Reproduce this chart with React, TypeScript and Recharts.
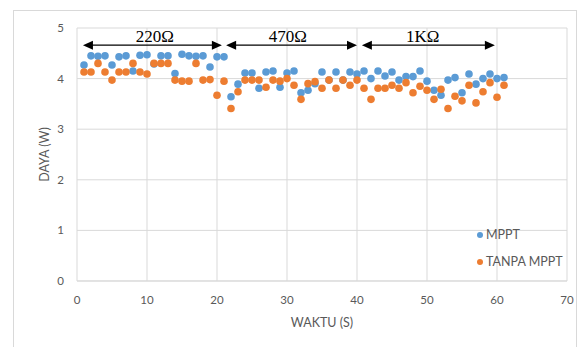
import React from "react";
import {
  ScatterChart,
  Scatter,
  XAxis,
  YAxis,
  CartesianGrid,
  Legend,
  ReferenceLine,
} from "recharts";

// sample times (s)
const times = [
  1, 2, 3, 4, 5, 6, 7, 8, 9, 10, 11, 12, 13, 14, 15, 16, 17, 18, 19, 20,
  21, 22, 23, 24, 25, 26, 27, 28, 29, 30, 31, 32, 33, 34, 35, 36, 37, 38, 39, 40,
  41, 42, 43, 44, 45, 46, 47, 48, 49, 50, 51, 52, 53, 54, 55, 56, 57, 58, 59, 60,
  61,
];

// power with MPPT (W)
const mppt = [
  4.27, 4.45, 4.44, 4.45, 4.27, 4.43, 4.45, 4.15, 4.46, 4.47, 4.29, 4.45, 4.45, 4.1, 4.48, 4.45, 4.44, 4.45, 4.23, 4.43,
  4.43, 3.64, 3.89, 4.11, 4.11, 3.81, 4.13, 4.15, 3.83, 4.11, 4.15, 3.72, 3.77, 3.9, 4.13, 3.97, 4.13, 3.97, 4.13, 4.09,
  4.15, 4.0, 4.15, 4.05, 4.13, 3.97, 4.04, 4.04, 4.15, 3.95, 3.77, 3.67, 3.97, 4.02, 3.72, 4.09, 3.89, 4.0, 4.09, 4.0,
  4.02,
];

// power without MPPT (W)
const tanpaMppt = [
  4.13, 4.13, 4.3, 4.13, 3.97, 4.13, 4.13, 4.3, 4.13, 4.09, 4.3, 4.3, 4.3, 3.97, 3.95, 3.95, 4.3, 3.97, 3.98, 3.67,
  3.95, 3.41, 3.74, 3.97, 3.97, 3.97, 3.83, 3.97, 3.95, 4.0, 3.87, 3.59, 3.9, 3.94, 3.81, 3.97, 3.81, 3.97, 3.87, 3.97,
  3.81, 3.59, 3.81, 3.81, 3.87, 3.81, 3.92, 3.72, 3.85, 3.77, 3.59, 3.79, 3.41, 3.65, 3.56, 3.87, 3.52, 3.74, 3.92, 3.63,
  3.87,
];

const xTicks = [0, 10, 20, 30, 40, 50, 60, 70];
const yTicks = [0, 1, 2, 3, 4, 5];

// load resistance spans shown as arrows above the points
const loads = [
  { label: "220Ω", from: 0.85, to: 20.7, textAt: 11.1 },
  { label: "470Ω", from: 21.3, to: 40.0, textAt: 30.1 },
  { label: "1KΩ", from: 40.7, to: 59.7, textAt: 49.4 },
];
const arrowY = 4.66;

const mpptData = times.map((t, i) => ({ t, w: mppt[i] }));
const tanpaData = times.map((t, i) => ({ t, w: tanpaMppt[i] }));

const BLUE = "#5B9BD5";
const ORANGE = "#ED7D31";
const GRID = "#D9D9D9";
const TEXT = "#595959";
const FONT = "Lato, 'Open Sans', sans-serif";

const dot = (color: string) => (p: any) =>
  <circle cx={p.cx} cy={p.cy} r={3.8} fill={color} />;

const makeArrow = (label: string, textAt: number, from: number, to: number) => (p: any) => {
  const { x1, y1, x2 } = p;
  const tx = x1 + ((textAt - from) / (to - from)) * (x2 - x1);
  const y = y1;
  return (
    <g>
      <line x1={x1 + 9} y1={y} x2={x2 - 9} y2={y} stroke="#000" strokeWidth={1.3} />
      <polygon points={`${x1},${y} ${x1 + 10},${y - 4.5} ${x1 + 10},${y + 4.5}`} fill="#000" />
      <polygon points={`${x2},${y} ${x2 - 10},${y - 4.5} ${x2 - 10},${y + 4.5}`} fill="#000" />
      <text
        x={tx}
        y={y - 3}
        textAnchor="middle"
        fontFamily="'Liberation Serif', 'Times New Roman', serif"
        fontSize={17}
        fill="#000"
      >
        {label}
      </text>
    </g>
  );
};

const LegendBox = () => (
  <div style={{ fontFamily: FONT, fontSize: 12.5, color: TEXT, lineHeight: "14px" }}>
    {[
      { name: "MPPT", color: BLUE },
      { name: "TANPA MPPT", color: ORANGE },
    ].map((item, i) => (
      <div key={item.name} style={{ display: "flex", alignItems: "center", marginTop: i ? 13 : 0 }}>
        <span
          style={{
            width: 6,
            height: 6,
            borderRadius: 3,
            background: item.color,
            display: "inline-block",
            marginRight: 3,
          }}
        />
        {item.name}
      </div>
    ))}
  </div>
);

export default function App() {
  return (
    <div
      style={{
        position: "absolute",
        left: 0,
        top: 0,
        width: 581,
        height: 347,
        background: "#fff",
        overflow: "hidden",
      }}
    >
      <div
        style={{
          position: "absolute",
          left: 13,
          top: 10,
          width: 564,
          height: 360,
          border: `1px solid ${GRID}`,
          boxSizing: "border-box",
        }}
      />
      <div style={{ position: "absolute", left: 0, top: 0 }}>
        <ScatterChart width={581} height={347} margin={{ top: 28, right: 14, left: 13, bottom: 36 }}>
          <CartesianGrid stroke={GRID} strokeWidth={1} />
          <XAxis
            type="number"
            dataKey="t"
            domain={[0, 70]}
            ticks={xTicks}
            axisLine={{ stroke: GRID }}
            tickLine={false}
            tickMargin={9}
            height={30}
            tick={{ fill: TEXT, fontSize: 11.5, fontFamily: FONT }}
            label={{
              content: ({ viewBox }: any) => (
                <text
                  x={viewBox.x + viewBox.width / 2}
                  y={327}
                  textAnchor="middle"
                  fill={TEXT}
                  fontSize={12.5}
                  fontFamily={FONT}
                >
                  WAKTU (S)
                </text>
              ),
            }}
          />
          <YAxis
            type="number"
            dataKey="w"
            domain={[0, 5]}
            ticks={yTicks}
            axisLine={false}
            tickLine={false}
            tickMargin={7}
            width={64}
            tick={{ fill: TEXT, fontSize: 11.5, fontFamily: FONT }}
            label={{
              content: ({ viewBox }: any) => {
                const cy = viewBox.y + viewBox.height / 2;
                return (
                  <text
                    x={49}
                    y={cy}
                    transform={`rotate(-90 49 ${cy})`}
                    textAnchor="middle"
                    fill={TEXT}
                    fontSize={12.5}
                    fontFamily={FONT}
                  >
                    DAYA (W)
                  </text>
                );
              },
            }}
          />
          <Legend
            layout="horizontal"
            verticalAlign="middle"
            align="center"
            content={() => <LegendBox />}
            wrapperStyle={{ position: "absolute", left: 477, top: 228, width: 100 }}
          />
          <Scatter
            name="MPPT"
            data={mpptData}
            fill={BLUE}
            shape={dot(BLUE)}
            isAnimationActive={false}
          />
          <Scatter
            name="TANPA MPPT"
            data={tanpaData}
            fill={ORANGE}
            shape={dot(ORANGE)}
            isAnimationActive={false}
          />
          {loads.map((l) => (
            <ReferenceLine
              key={l.label}
              segment={[
                { x: l.from, y: arrowY },
                { x: l.to, y: arrowY },
              ]}
              shape={makeArrow(l.label, l.textAt, l.from, l.to)}
              ifOverflow="visible"
            />
          ))}
        </ScatterChart>
      </div>
    </div>
  );
}
